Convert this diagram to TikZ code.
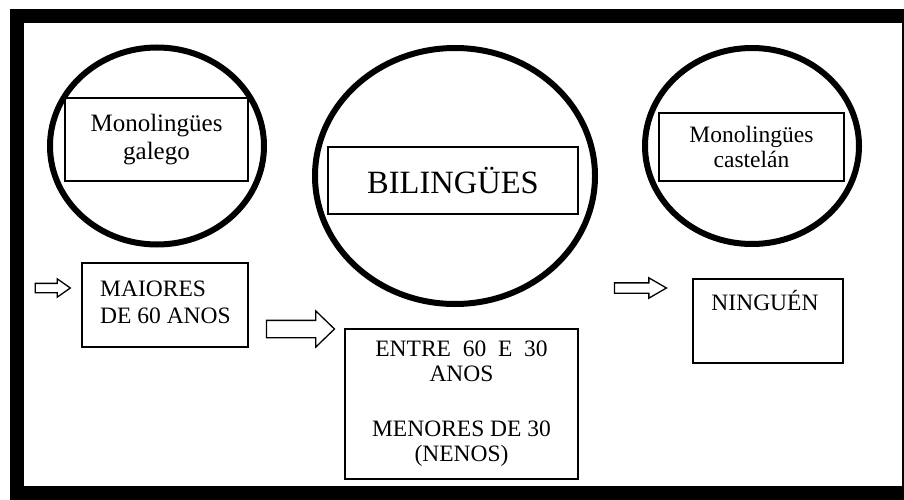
\documentclass[tikz,border=0pt]{standalone}
\usepackage{fontspec}
\setmainfont{Liberation Serif}
\usetikzlibrary{shapes.geometric,shapes.arrows}

\tikzset{
	ring/.style={ellipse, draw, line width=6pt, inner sep=0pt},
	box/.style={rectangle, draw, line width=1.4pt, inner sep=0pt, align=center, font=\fontsize{23.5}{26}\selectfont},
	txt/.style={inner sep=0pt, font=\fontsize{23.5}{27}\selectfont},
	blockarrow/.style={single arrow, draw, line width=1.3pt, inner xsep=0pt, single arrow head indent=0pt}
}

\begin{document}
\begin{tikzpicture}[x=1pt,y=-1pt]
		\useasboundingbox (0,0) rectangle (904,500);
		\draw[line width=14pt] (17,16) rectangle (909,493);

		\node[ring, minimum width=214, minimum height=197] (r1) at (157,146) {};
		\node[ring, minimum width=280, minimum height=256] (r2) at (455,176) {};
		\node[ring, minimum width=214, minimum height=196] (r3) at (752,146) {};

		\node[box, minimum width=183, minimum height=83, font=\fontsize{25}{28}\selectfont] (galego) at (156.5,139.5) {Monolingües\\galego};
		\node[box, minimum width=250, minimum height=67, font=\fontsize{32.5}{36}\selectfont] (biling) at (453,180.5) {BILINGÜES};
		\node[box, minimum width=185, minimum height=68, font=\fontsize{23.5}{25}\selectfont] (castelan) at (751.5,147) {Monolingües\\castelán};

		\node[box, minimum width=166, minimum height=84] (maiores) at (165,305) {};
		\node[txt, anchor=west, align=left] (maiorestxt) at (100,302) {MAIORES\\DE 60 ANOS};
		\node[box, minimum width=233, minimum height=150, font=\fontsize{23.5}{25}\selectfont] (entre) at (461.5,404) {ENTRE~~60~~E~~30\\ANOS\\[30pt]MENORES DE 30\\(NENOS)};
		\node[box, minimum width=150, minimum height=84] (ninguen) at (768,321) {};
		\node[txt, anchor=base] (ninguentxt) at (765,310) {NINGUÉN};

		\node[blockarrow, minimum height=35, inner ysep=4pt, single arrow head extend=4.5pt, single arrow tip angle=70] (a1) at (49.5,288) {};
		\node[blockarrow, minimum height=68, inner ysep=8pt, single arrow head extend=9.5pt, single arrow tip angle=88] (a2) at (296,329) {};
		\node[blockarrow, minimum height=52, inner ysep=4.5pt, single arrow head extend=5pt, single arrow tip angle=60] (a3) at (636,288) {};
\end{tikzpicture}
\end{document}
